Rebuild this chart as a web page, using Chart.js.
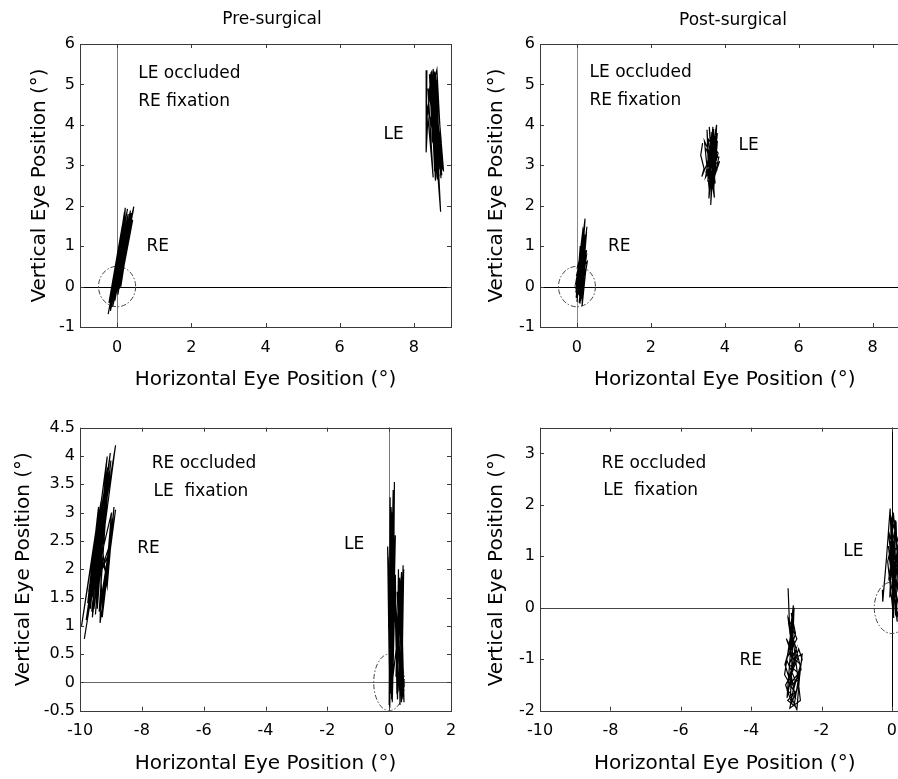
<!DOCTYPE html>
<html>
<head>
<meta charset="utf-8">
<script src="https://cdn.jsdelivr.net/npm/chart.js@4/dist/chart.umd.min.js"></script>
<style>
html, body { margin: 0; padding: 0; background: #fff; overflow: hidden; width: 898px; height: 779px; }
canvas { position: absolute; }
</style>
</head>
<body>
<canvas id="c1" width="460" height="395" style="left:0;top:0"></canvas>
<canvas id="c2" width="460" height="395" style="left:460px;top:0"></canvas>
<canvas id="c3" width="460" height="389" style="left:0;top:390px"></canvas>
<canvas id="c4" width="460" height="389" style="left:460px;top:390px"></canvas>
<script>
// eye traces, [horizontal deg, vertical deg]
// LE occluded / RE fixation, pre-surgical
const preLeOccRE = [[-0.24,-0.68],[0.28,1.92],[-0.12,-0.20],[0.36,1.88],[0.02,0.10],[0.22,1.70],[-0.16,-0.45],[0.33,1.60],[-0.05,0.00],[0.45,1.98],[0.08,0.05],[0.20,1.40],[-0.20,-0.55],[0.25,1.55],[0.00,0.30],[0.40,1.75],[-0.08,-0.30],[0.18,1.20],[0.10,0.10],[0.38,1.45],[-0.14,-0.10],[0.30,1.80],[0.05,0.40],[0.15,1.00],[-0.18,-0.60],[0.26,1.30],[0.12,0.20],[0.42,1.65],[-0.02,-0.15],[0.20,1.85],[-0.10,0.05],[0.32,1.25],[0.06,-0.05],[0.24,1.10],[-0.22,-0.40],[0.14,1.50],[0.00,0.60],[0.35,1.50],[0.10,0.00],[0.16,0.80],[0.22,1.95],[-0.06,-0.35],[0.34,1.70],[0.04,0.20],[0.28,1.35],[-0.12,-0.50],[0.44,1.90],[0.08,0.35],[0.30,1.15],[-0.16,-0.25],[0.38,1.82],[0.02,-0.20],[0.20,1.60],[-0.04,0.45],[0.12,0.90]];
const preLeOccLE = [[8.35,5.35],[8.33,3.32],[8.40,4.60],[8.46,5.30],[8.62,2.70],[8.52,5.38],[8.70,2.90],[8.48,5.05],[8.58,2.62],[8.56,5.32],[8.75,2.75],[8.42,4.85],[8.64,3.05],[8.50,5.22],[8.73,2.68],[8.60,4.95],[8.68,3.25],[8.45,5.10],[8.56,2.85],[8.58,5.28],[8.74,3.55],[8.50,4.55],[8.72,1.85],[8.66,2.95],[8.54,4.70],[8.62,3.40],[8.47,4.90],[8.70,3.10],[8.55,5.15],[8.66,2.80],[8.44,4.20],[8.60,3.70],[8.52,5.00],[8.78,3.00],[8.58,4.40],[8.63,2.65],[8.49,4.75],[8.69,3.35],[8.57,4.60],[8.65,3.80],[8.38,4.90],[8.52,2.70],[8.36,4.40],[8.62,5.36],[8.76,2.95],[8.50,3.60],[8.42,5.25],[8.68,2.72],[8.54,3.90],[8.48,5.34],[8.72,3.20],[8.56,4.10],[8.80,2.85],[8.60,5.10],[8.66,3.00],[8.44,4.60],[8.70,3.60]];
// LE occluded / RE fixation, post-surgical
const postLeOccRE = [[0.00,-0.38],[0.21,1.52],[0.05,-0.20],[0.27,1.48],[0.09,0.00],[0.22,1.68],[0.02,0.22],[0.17,1.02],[0.08,-0.42],[0.25,0.72],[-0.03,0.10],[0.14,0.96],[0.12,-0.30],[0.28,0.62],[0.00,0.32],[0.19,1.05],[0.14,-0.48],[0.24,0.42],[0.05,-0.12],[0.11,0.82],[0.18,0.10],[0.09,1.00],[-0.02,-0.28],[0.22,0.55],[0.04,0.05],[0.20,1.30],[0.10,-0.35],[0.26,0.90],[-0.04,-0.05],[0.15,0.60],[0.07,-0.25],[0.23,1.10],[0.16,1.40],[-0.02,0.00],[0.24,1.20],[0.06,-0.40],[0.18,0.70],[0.02,0.50],[0.26,1.35],[0.12,-0.20],[0.20,0.85],[-0.03,-0.15],[0.16,1.20],[0.08,0.20]];
const postLeOccLE = [[3.40,3.55],[3.35,3.25],[3.44,2.92],[3.38,2.72],[3.55,3.10],[3.52,3.88],[3.60,2.50],[3.65,3.82],[3.57,2.18],[3.72,3.40],[3.62,2.02],[3.68,3.70],[3.55,2.80],[3.78,4.00],[3.70,2.40],[3.80,3.60],[3.62,2.62],[3.86,3.10],[3.75,2.80],[3.50,3.40],[3.66,3.20],[3.58,3.95],[3.70,2.32],[3.76,3.72],[3.60,2.90],[3.48,2.70],[3.63,3.50],[3.74,2.55],[3.55,3.65],[3.82,3.30],[3.65,2.70],[3.70,3.90],[3.52,3.00],[3.78,2.90],[3.60,3.30],[3.45,3.60],[3.58,2.40],[3.68,3.95],[3.54,2.60],[3.80,3.80],[3.66,2.45],[3.84,3.20],[3.56,3.20],[3.72,2.20],[3.62,3.70],[3.77,3.05],[3.50,2.85],[3.64,3.40]];
// RE occluded / LE fixation, pre-surgical
const preReOccRE = [[-9.86,0.77],[-8.85,4.19],[-9.55,1.30],[-9.12,3.99],[-9.75,1.40],[-9.40,3.10],[-9.60,1.15],[-9.00,3.92],[-9.45,1.50],[-9.05,3.72],[-9.65,1.45],[-9.20,3.30],[-9.50,1.20],[-9.28,2.90],[-9.35,1.05],[-8.85,3.05],[-9.20,1.60],[-8.95,2.90],[-9.30,1.40],[-9.00,2.50],[-9.42,1.80],[-9.15,3.60],[-9.70,1.35],[-9.48,2.70],[-9.95,1.00],[-9.32,3.20],[-9.58,1.55],[-9.10,3.50],[-9.38,1.25],[-8.92,2.85],[-9.25,1.30],[-9.05,2.30],[-9.52,1.70],[-9.22,2.60],[-9.62,1.50],[-9.30,2.20],[-9.15,1.90],[-8.98,3.00],[-9.80,1.10],[-9.02,4.05],[-9.62,1.25],[-9.20,3.40],[-9.72,1.60],[-9.10,3.80],[-9.44,1.30],[-9.35,2.40],[-9.28,1.15],[-8.90,3.10],[-9.12,1.70],[-9.40,2.90],[-9.66,1.30]];
const preReOccLE = [[0.00,-0.40],[0.03,3.27],[0.08,-0.30],[0.17,3.54],[0.12,0.20],[-0.05,2.40],[0.02,-0.45],[0.10,3.00],[0.05,0.50],[0.15,2.80],[0.10,-0.35],[0.20,1.90],[0.25,-0.20],[0.30,2.00],[0.35,-0.40],[0.45,2.07],[0.42,-0.30],[0.38,1.80],[0.48,-0.35],[0.30,1.50],[0.22,0.10],[0.40,1.95],[0.45,-0.25],[0.28,0.80],[0.18,1.70],[0.05,0.30],[0.12,2.50],[-0.02,1.00],[0.08,-0.10],[0.14,2.20],[0.04,0.80],[0.20,2.60],[0.10,0.00],[0.36,1.20],[0.44,0.20],[0.32,-0.10],[0.06,3.10],[0.00,-0.35],[0.13,3.40],[0.06,-0.20],[-0.03,2.20],[0.10,0.10],[0.16,2.00],[0.27,-0.30],[0.34,1.85],[0.40,-0.35],[0.47,2.00],[0.36,0.20],[0.26,1.60]];
// RE occluded / LE fixation, post-surgical
const postReOccRE = [[-2.95,0.38],[-2.90,-0.50],[-2.80,0.05],[-2.85,-0.80],[-3.00,-0.60],[-2.75,-1.10],[-2.95,-1.40],[-2.65,-0.80],[-2.55,-1.00],[-2.80,-1.60],[-3.05,-1.30],[-2.85,-0.40],[-2.70,-1.20],[-2.60,-1.80],[-2.90,-1.95],[-2.75,-1.40],[-3.00,-1.00],[-2.70,-0.60],[-2.95,-0.20],[-2.80,-1.00],[-2.55,-0.90],[-2.65,-1.50],[-2.85,-1.85],[-3.02,-1.50],[-2.80,-1.20],[-2.90,-0.70],[-2.78,0.00],[-2.88,-1.70],[-2.70,-1.98],[-2.62,-1.30],[-2.92,-1.10],[-2.72,-0.80],[-2.98,-1.75],[-2.82,-0.30],[-2.86,-0.10],[-2.74,-0.50],[-2.92,-0.90],[-2.60,-1.10],[-2.70,-1.60],[-2.96,-1.80],[-2.78,-1.90],[-2.66,-1.40],[-2.86,-1.50],[-3.04,-1.10],[-2.84,-0.60],[-2.94,-0.30],[-2.76,-0.70],[-2.58,-1.20],[-2.80,-1.40],[-2.98,-1.60],[-2.74,-1.75],[-2.88,-1.25],[-2.68,-1.00],[-2.84,-0.85]];
const postReOccLE = [[-0.27,0.35],[-0.26,0.12],[-0.15,1.00],[-0.05,1.93],[0.05,-0.20],[0.00,1.60],[0.10,0.20],[-0.10,1.20],[0.15,-0.27],[0.08,1.40],[-0.08,0.60],[0.20,1.10],[0.02,0.00],[-0.12,0.90],[0.12,1.61],[0.18,0.30],[-0.05,1.30],[0.25,0.50],[0.10,-0.10],[0.00,0.80],[0.30,1.00],[-0.02,1.75],[0.06,0.40],[-0.10,1.50],[0.14,0.90],[0.22,1.40],[-0.06,0.20],[0.04,1.85],[0.28,0.20],[0.16,-0.15],[-0.08,1.00],[0.32,1.30],[0.02,0.40],[0.10,1.70],[0.24,-0.05]];

// tick values
const topXTicks = [0, 2, 4, 6, 8];
const topYTicks = [-1, 0, 1, 2, 3, 4, 5, 6];
const preBotXTicks = [-10, -8, -6, -4, -2, 0, 2];
const preBotYTicks = [-0.5, 0, 0.5, 1, 1.5, 2, 2.5, 3, 3.5, 4, 4.5];
const postBotXTicks = [-10, -8, -6, -4, -2, 0];
const postBotYTicks = [-2, -1, 0, 1, 2, 3];

const FIX_RADIUS = 0.5; // fixation window (deg)
const FONT = 'DejaVu Sans';

Chart.defaults.font.family = FONT;
Chart.defaults.color = '#000';

// zero lines, fixation circle, box, inward ticks, notes, title
const panelDecor = {
    id: 'panelDecor',
    beforeDatasetsDraw(chart, args, opts) {
        const { ctx, chartArea: a, scales: { x, y } } = chart;
        ctx.save();
        ctx.lineWidth = 1;
        var y0 = Math.round(y.getPixelForValue(0)) + 0.5;
        ctx.strokeStyle = opts.hZero;
        ctx.beginPath(); ctx.moveTo(a.left, y0); ctx.lineTo(a.right, y0); ctx.stroke();
        var x0 = Math.round(x.getPixelForValue(0)) + 0.5;
        ctx.strokeStyle = opts.vZero;
        ctx.beginPath(); ctx.moveTo(x0, a.top); ctx.lineTo(x0, a.bottom); ctx.stroke();

        ctx.beginPath();
        ctx.rect(a.left, a.top, a.right - a.left, a.bottom - a.top);
        ctx.clip();
        var rx = Math.abs(x.getPixelForValue(FIX_RADIUS) - x.getPixelForValue(0));
        var ry = Math.abs(y.getPixelForValue(FIX_RADIUS) - y.getPixelForValue(0));
        ctx.setLineDash([5, 2, 1.5, 2]);
        ctx.strokeStyle = '#444';
        ctx.beginPath();
        ctx.ellipse(x.getPixelForValue(0), y.getPixelForValue(0), rx, ry, 0, 0, 2 * Math.PI);
        ctx.stroke();
        ctx.restore();
    },
    afterDraw(chart, args, opts) {
        const { ctx, chartArea: a, scales: { x, y } } = chart;
        ctx.save();
        ctx.strokeStyle = '#3a3a3a';
        ctx.lineWidth = 1;
        ctx.strokeRect(Math.round(a.left) + 0.5, Math.round(a.top) + 0.5,
            Math.round(a.right - a.left), Math.round(a.bottom - a.top));
        ctx.beginPath();
        x.ticks.forEach(t => {
            var px = Math.round(x.getPixelForValue(t.value)) + 0.5;
            ctx.moveTo(px, a.bottom); ctx.lineTo(px, a.bottom - 4);
            ctx.moveTo(px, a.top); ctx.lineTo(px, a.top + 4);
        });
        y.ticks.forEach(t => {
            var py = Math.round(y.getPixelForValue(t.value)) + 0.5;
            ctx.moveTo(a.left, py); ctx.lineTo(a.left + 4, py);
            ctx.moveTo(a.right, py); ctx.lineTo(a.right - 4, py);
        });
        ctx.stroke();

        ctx.fillStyle = '#000';
        ctx.textBaseline = 'middle';
        ctx.textAlign = 'left';
        ctx.font = '17px "' + FONT + '"';
        opts.notes.forEach(n => {
            ctx.fillText(n.text, x.getPixelForValue(n.x), y.getPixelForValue(n.y));
        });
        if (opts.title) {
            ctx.textAlign = 'center';
            ctx.font = '17px "' + FONT + '"';
            ctx.fillText(opts.title.text, opts.title.x, opts.title.y);
        }
        ctx.restore();
    }
};

function makePanel(id, p) {
    var datasets = p.traces.map(tr => ({
        data: tr.map(pt => ({ x: pt[0], y: pt[1] })),
        showLine: true,
        borderColor: '#000',
        borderWidth: 1.2,
        pointRadius: 0,
        tension: 0
    }));
    return new Chart(document.getElementById(id), {
        type: 'scatter',
        data: { datasets },
        options: {
            responsive: false,
            animation: false,
            devicePixelRatio: 1,
            layout: { padding: p.pad },
            scales: {
                x: {
                    type: 'linear',
                    min: p.xMin, max: p.xMax,
                    afterBuildTicks: s => { s.ticks = p.xTicks.map(v => ({ value: v })); },
                    afterFit: s => { s.height = p.xh; s.paddingLeft = 0; s.paddingRight = 0; },
                    grid: { display: false, drawTicks: false },
                    border: { display: false },
                    ticks: { font: { size: 16 }, color: '#000', padding: 11, maxRotation: 0, autoSkip: false, callback: v => String(v) },
                    title: { display: true, text: 'Horizontal Eye Position (°)', color: '#000', font: { size: 20 }, padding: { top: 0, bottom: 3 } }
                },
                y: {
                    type: 'linear',
                    min: p.yMin, max: p.yMax,
                    afterBuildTicks: s => { s.ticks = p.yTicks.map(v => ({ value: v })); },
                    afterFit: s => { s.width = 80; s.paddingTop = 0; s.paddingBottom = 0; },
                    grid: { display: false, drawTicks: false },
                    border: { display: false },
                    ticks: { font: { size: 16 }, color: '#000', padding: 5, autoSkip: false, callback: v => String(v) },
                    title: { display: true, text: 'Vertical Eye Position (°)', color: '#000', font: { size: 20 }, padding: { top: p.yTitlePad, bottom: 0 } }
                }
            },
            plugins: {
                legend: { display: false },
                tooltip: { enabled: false },
                panelDecor: { hZero: p.hZero, vZero: p.vZero, notes: p.notes, title: p.title }
            }
        },
        plugins: [panelDecor]
    });
}

makePanel('c1', {
    traces: [preLeOccRE, preLeOccLE],
    xMin: -1, xMax: 9, yMin: -1, yMax: 6,
    xTicks: topXTicks, yTicks: topYTicks,
    pad: { top: 44, right: 9, left: 0, bottom: 0 }, xh: 68, yTitlePad: 27.5,
    hZero: '#000', vZero: '#777',
    notes: [
        { text: 'LE occluded', x: 0.57, y: 5.26 },
        { text: 'RE fixation', x: 0.57, y: 4.57 },
        { text: 'LE', x: 7.18, y: 3.75 },
        { text: 'RE', x: 0.79, y: 1.0 }
    ],
    title: { text: 'Pre-surgical', x: 272, y: 20 }
});

makePanel('c2', {
    traces: [postLeOccRE, postLeOccLE],
    xMin: -1, xMax: 9, yMin: -1, yMax: 6,
    xTicks: topXTicks, yTicks: topYTicks,
    pad: { top: 44, right: 10.5, left: 0, bottom: 0 }, xh: 68, yTitlePad: 25,
    hZero: '#000', vZero: '#888',
    notes: [
        { text: 'LE occluded', x: 0.34, y: 5.29 },
        { text: 'RE fixation', x: 0.34, y: 4.59 },
        { text: 'LE', x: 4.37, y: 3.48 },
        { text: 'RE', x: 0.84, y: 1.0 }
    ],
    title: { text: 'Post-surgical', x: 273, y: 21 }
});

makePanel('c3', {
    traces: [preReOccRE, preReOccLE],
    xMin: -10, xMax: 2, yMin: -0.5, yMax: 4.5,
    xTicks: preBotXTicks, yTicks: preBotYTicks,
    pad: { top: 37.7, right: 9, left: 0, bottom: 0 }, xh: 68.3, yTitlePad: 11.3,
    hZero: '#666', vZero: '#777',
    notes: [
        { text: 'RE occluded', x: -7.68, y: 3.87 },
        { text: 'LE  fixation', x: -7.62, y: 3.37 },
        { text: 'RE', x: -8.15, y: 2.37 },
        { text: 'LE', x: -1.46, y: 2.44 }
    ]
});

makePanel('c4', {
    traces: [postReOccRE, postReOccLE],
    xMin: -10, xMax: 0.5, yMin: -2, yMax: 3.5,
    xTicks: postBotXTicks, yTicks: postBotYTicks,
    pad: { top: 37.7, right: 10.5, left: 0, bottom: 0 }, xh: 68.3, yTitlePad: 24.7,
    hZero: '#444', vZero: '#000',
    notes: [
        { text: 'RE occluded', x: -8.25, y: 2.81 },
        { text: 'LE  fixation', x: -8.2, y: 2.27 },
        { text: 'LE', x: -1.38, y: 1.10 },
        { text: 'RE', x: -4.33, y: -1.03 }
    ]
});
</script>
</body>
</html>
